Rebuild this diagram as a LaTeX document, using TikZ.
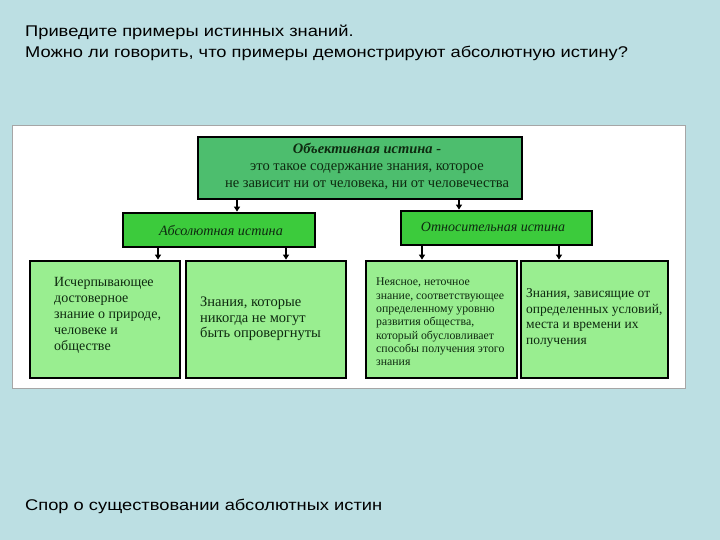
\documentclass[tikz,border=0pt]{standalone}
\usepackage{fontspec}
\usepackage{graphicx}
\setmainfont{Liberation Serif}
\newfontfamily\hdfont{Liberation Sans}
\usetikzlibrary{arrows.meta}
\definecolor{bgblue}{HTML}{BCDFE3}
\definecolor{topgreen}{HTML}{4DBE6E}
\definecolor{midgreen}{HTML}{3CCB3C}
\definecolor{lightgreen}{HTML}{99EE90}
\definecolor{txtgreen}{HTML}{0E2A10}
\tikzset{
  box/.style={draw=black, line width=2.8pt, inner sep=0pt},
  arr/.style={draw=black, line width=1.6pt, -{Triangle[length=5pt,width=6pt]}},
  btxt/.style={anchor=west, align=left, inner sep=0pt, text=txtgreen, font=\fontsize{14}{16}\selectfont},
  hd/.style={anchor=west, inner sep=0pt, font=\hdfont\fontsize{15.5}{19}\selectfont, text=black}
}
\newcommand{\wide}[1]{\scalebox{1.18}[1]{#1}}
\begin{document}
\begin{tikzpicture}[x=1pt,y=-1pt]
\useasboundingbox (0,0) rectangle (720,540);
\fill[bgblue] (0,0) rectangle (720,540);
\node[hd] (h1) at (25,32) {\wide{Приведите примеры истинных знаний.}};
\node[hd] (h2) at (25,53) {\wide{Можно ли говорить, что примеры демонстрируют абсолютную истину?}};
\node[hd] (h3) at (25,506) {\wide{Спор о существовании абсолютных истин}};
% panel
\draw[fill=white, draw=gray!70, line width=0.6pt] (12,125) rectangle (685,388);
% top box
\node[box, fill=topgreen, minimum width=324pt, minimum height=62pt] (top) at (360,168) {};
\node[inner sep=0pt, align=center, text=txtgreen, font=\fontsize{14.5}{17}\selectfont] (toptxt) at (367,166)
  {\textbf{\textit{Объективная истина -}}\\это такое содержание знания, которое\\не зависит ни от человека, ни от человечества};
% level 2
\node[box, fill=midgreen, minimum width=192pt, minimum height=34pt] (abs) at (219,230) {};
\node[inner sep=0pt, text=txtgreen, font=\itshape\fontsize{14.2}{16}\selectfont] (abstxt) at (221,231) {Абсолютная истина};
\node[box, fill=midgreen, minimum width=191pt, minimum height=34pt] (rel) at (496.5,228) {};
\node[inner sep=0pt, text=txtgreen, font=\itshape\fontsize{14}{16}\selectfont] (reltxt) at (493,227) {Относительная истина};
% level 3
\node[box, fill=lightgreen, minimum width=150pt, minimum height=117pt] (b1) at (105,319.5) {};
\node[box, fill=lightgreen, minimum width=160pt, minimum height=117pt] (b2) at (266,319.5) {};
\node[box, fill=lightgreen, minimum width=151pt, minimum height=117pt] (b3) at (441.5,319.5) {};
\node[box, fill=lightgreen, minimum width=147pt, minimum height=117pt] (b4) at (594.5,319.5) {};
\node[btxt] (t1) at (54,315) {Исчерпывающее\\достоверное\\знание о природе,\\человеке и\\обществе};
\node[btxt, font=\fontsize{14.5}{15.5}\selectfont] (t2) at (200,319) {Знания, которые\\никогда не могут\\быть опровергнуты};
\node[btxt, font=\fontsize{11.8}{13.3}\selectfont] (t3) at (376,322) {Неясное, неточное\\знание, соответствующее\\определенному уровню\\развития общества,\\который обусловливает\\способы получения этого\\знания};
\node[btxt, font=\fontsize{13.5}{15.7}\selectfont] (t4) at (526,318) {Знания, зависящие от\\определенных условий,\\места и времени их\\получения};
% connectors
\coordinate (xa) at (237,0);
\coordinate (xr) at (459,0);
\coordinate (x1) at (158,0);
\coordinate (x2) at (286,0);
\coordinate (x3) at (422,0);
\coordinate (x4) at (559,0);
\draw[arr] (top.south -| xa) -- (abs.north -| xa);
\draw[arr] (top.south -| xr) -- (rel.north -| xr);
\draw[arr] (abs.south -| x1) -- (b1.north -| x1);
\draw[arr] (abs.south -| x2) -- (b2.north -| x2);
\draw[arr] (rel.south -| x3) -- (b3.north -| x3);
\draw[arr] (rel.south -| x4) -- (b4.north -| x4);
\end{tikzpicture}
\end{document}
